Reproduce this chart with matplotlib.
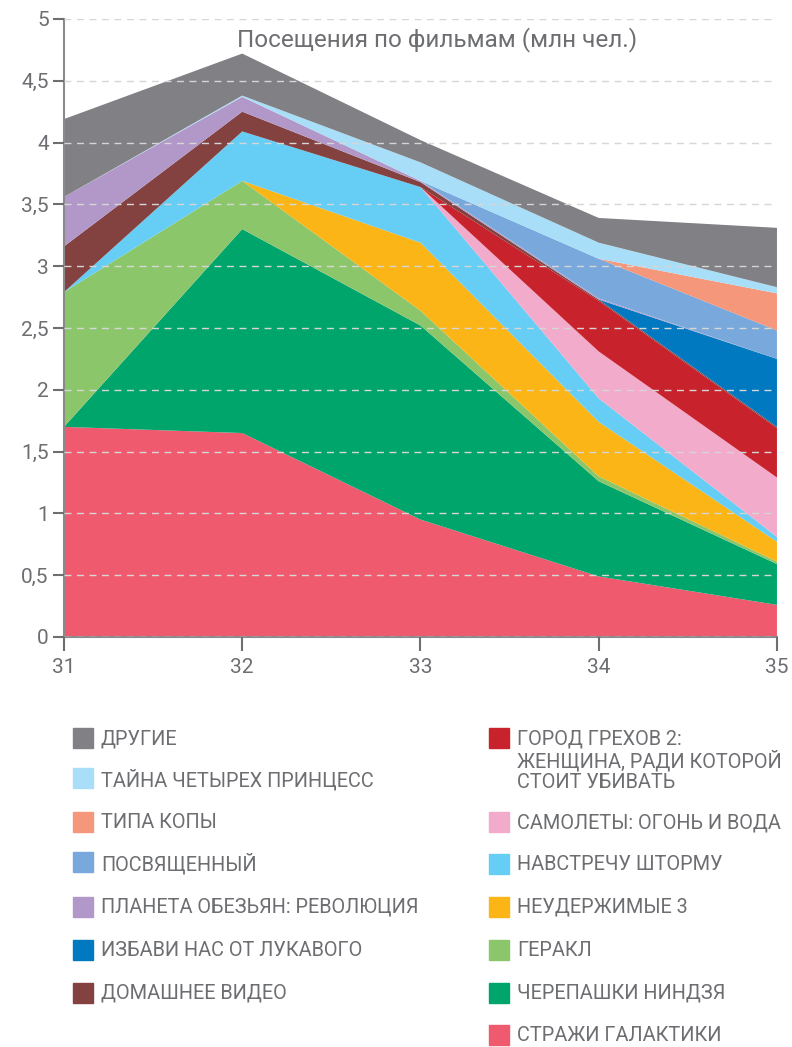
import matplotlib.pyplot as plt
from matplotlib.patches import Rectangle

weeks = [31, 32, 33, 34, 35]

# stack order, bottom to top
names = [
    'СТРАЖИ ГАЛАКТИКИ',
    'ЧЕРЕПАШКИ НИНДЗЯ',
    'ГЕРАКЛ',
    'НЕУДЕРЖИМЫЕ 3',
    'НАВСТРЕЧУ ШТОРМУ',
    'САМОЛЕТЫ: ОГОНЬ И ВОДА',
    'ГОРОД ГРЕХОВ 2:\nЖЕНЩИНА, РАДИ КОТОРОЙ\nСТОИТ УБИВАТЬ',
    'ДОМАШНЕЕ ВИДЕО',
    'ИЗБАВИ НАС ОТ ЛУКАВОГО',
    'ПЛАНЕТА ОБЕЗЬЯН: РЕВОЛЮЦИЯ',
    'ПОСВЯЩЕННЫЙ',
    'ТИПА КОПЫ',
    'ТАЙНА ЧЕТЫРЕХ ПРИНЦЕСС',
    'ДРУГИЕ',
]

strazhi = [1.70, 1.65, 0.95, 0.49, 0.26]
cherepashki = [0.00, 1.65, 1.57, 0.77, 0.33]
gerakl = [1.09, 0.39, 0.12, 0.04, 0.02]
neuderzhimye = [0.00, 0.00, 0.55, 0.44, 0.16]
navstrechu = [0.00, 0.40, 0.45, 0.19, 0.04]
samolety = [0.00, 0.00, 0.00, 0.38, 0.48]
gorod = [0.00, 0.00, 0.00, 0.41, 0.40]
domashnee = [0.37, 0.16, 0.04, 0.01, 0.01]
izbavi = [0.00, 0.00, 0.00, 0.00, 0.55]
planeta = [0.40, 0.12, 0.01, 0.01, 0.00]
posvyashchenny = [0.00, 0.00, 0.00, 0.32, 0.23]
tipa_kopy = [0.00, 0.00, 0.00, 0.00, 0.30]
taina = [0.00, 0.01, 0.15, 0.13, 0.05]
drugie = [0.63, 0.34, 0.18, 0.20, 0.48]

series = [strazhi, cherepashki, gerakl, neuderzhimye, navstrechu, samolety, gorod,
          domashnee, izbavi, planeta, posvyashchenny, tipa_kopy, taina, drugie]

colors = ['#ef5a6e', '#00a56c', '#8cc66a', '#fbb516', '#66cdf5', '#f3abcb', '#c8232c',
          '#834240', '#0079c1', '#b198c8', '#79a9dc', '#f5977a', '#a9def8', '#808085']

grey = '#6d6e71'
plt.rcParams['font.family'] = ['Roboto', 'DejaVu Sans']

fig = plt.figure(figsize=(7.92, 10.47), dpi=100)
ax = fig.add_axes([0.0808, 0.3916, 0.9002, 0.5903])

ax.stackplot(weeks, *series, colors=colors, linewidth=0)

ax.set_xlim(31, 35)
ax.set_ylim(0, 5)
yt = [i * 0.5 for i in range(11)]
ax.set_yticks(yt)
ax.set_yticklabels([f'{v:g}'.replace('.', ',') for v in yt])
ax.set_xticks(weeks)
ax.set_xticklabels([str(w) for w in weeks])
ax.tick_params(colors=grey, labelsize=15, width=1.5)
ax.tick_params(axis='y', length=8, pad=3)
ax.tick_params(axis='x', length=10, pad=5)
for s in ['top', 'right']:
    ax.spines[s].set_visible(False)
for s in ['left', 'bottom']:
    ax.spines[s].set_color('#8a8a8c')
    ax.spines[s].set_linewidth(1.5)

ax.set_axisbelow(False)
ax.yaxis.grid(True, color='#d6d6d6', linestyle=(0, (5, 4)), linewidth=1)

ax.text(0.523, 0.966, 'Посещения по фильмам (млн чел.)', transform=ax.transAxes,
        ha='center', va='center', color=grey, fontsize=17.5)

# legend, two columns
W, H = 792, 1047
left_rows = [738, 778, 822, 862, 907, 950, 993]
right_rows = [738, 822, 864, 907, 950, 993, 1035]
entries = list(range(len(names)))[::-1]
for k, idx in enumerate(entries):
    if k < 7:
        x0, y0 = 73, left_rows[k]
    else:
        x0, y0 = 489, right_rows[k - 7]
    fig.patches.append(Rectangle((x0 / W, 1 - (y0 + 10) / H), 20 / W, 20 / H,
                                 transform=fig.transFigure, color=colors[idx]))
    fig.text((x0 + 28) / W, 1 - (y0 - 9) / H, names[idx], ha='left', va='top',
             color=grey, fontsize=14.3, linespacing=1.1)

fig.savefig('out.png', dpi=100)
